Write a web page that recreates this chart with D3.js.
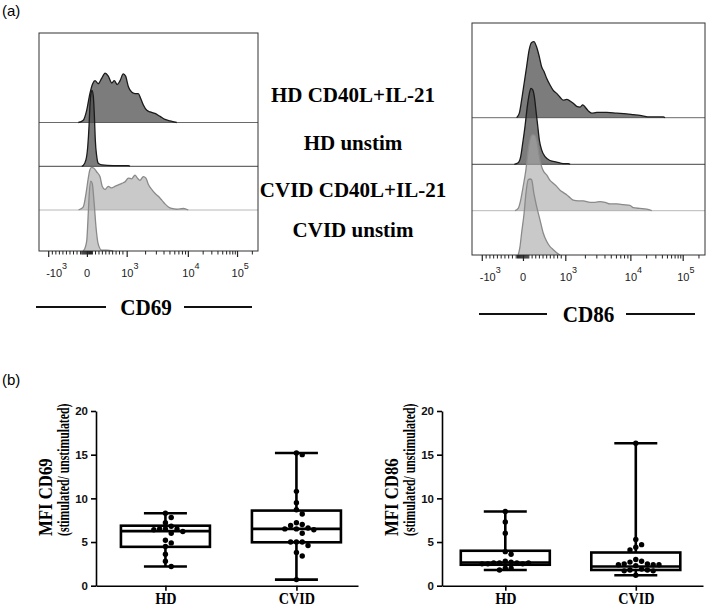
<!DOCTYPE html>
<html>
<head>
<meta charset="utf-8">
<script src="https://cdn.jsdelivr.net/npm/d3@7"></script>
<style>
  body { margin: 0; background: #fff; }
  svg { display: block; }
</style>
</head>
<body>
<svg id="fig" width="709" height="610"></svg>
<script>
// ---- flow histograms, [channel (0-1024), count (% of max)] ----
const cd69HdStim = [[184,0],[207,3],[223,16],[238,38],[251,51],[262,55],[277,51],[293,58],[309,65],[324,61],[340,52],[352,55],[366,50],[379,55],[394,64],[405,61],[418,47],[433,40],[449,38],[464,38],[475,32],[488,23],[504,16],[519,14],[542,12],[566,8],[589,4],[613,2],[644,0]];
const cd69HdUnstim = [[200,0],[207,1],[220,9],[228,26],[234,53],[238,79],[243,96],[248,100],[254,92],[259,66],[263,36],[270,13],[277,4],[293,2],[347,1],[418,1],[425,0]];
const cd69CvidStim = [[185,0],[192,1],[207,4],[220,22],[231,43],[238,53],[246,56],[257,55],[270,50],[285,44],[296,31],[309,27],[324,31],[340,29],[355,31],[371,33],[387,35],[402,37],[418,42],[433,41],[449,46],[460,42],[472,39],[488,44],[500,42],[511,34],[527,27],[542,22],[558,18],[574,13],[589,8],[605,4],[620,2],[644,1],[675,2],[698,0]];
const cd69CvidUnstim = [[205,0],[210,1],[223,13],[231,53],[235,75],[242,92],[249,89],[257,66],[267,30],[277,9],[293,1],[317,1],[347,0]];

const cd86HdStim = [[196,0],[208,6],[218,23],[229,45],[240,67],[251,89],[262,99],[272,100],[284,93],[296,80],[306,67],[316,61],[328,52],[343,43],[357,36],[372,32],[387,27],[401,23],[416,24],[431,22],[445,19],[460,15],[475,14],[487,17],[497,14],[511,9],[526,6],[548,7],[592,7],[636,6],[680,5],[709,4],[738,3],[782,1],[841,1],[848,0]];
const cd86HdUnstim = [[186,0],[203,2],[214,10],[223,28],[233,50],[243,76],[252,93],[259,100],[267,98],[274,89],[281,71],[289,50],[296,32],[306,19],[321,10],[343,5],[372,3],[401,1],[423,1],[431,0]];
const cd86CvidStim = [[189,0],[203,3],[214,14],[225,32],[237,54],[247,80],[258,97],[267,100],[277,99],[287,89],[296,71],[306,58],[316,51],[328,47],[343,40],[357,36],[372,32],[387,27],[401,24],[416,21],[431,17],[445,14],[467,13],[489,13],[519,11],[541,11],[563,12],[585,11],[607,9],[636,9],[665,8],[694,7],[709,4],[738,3],[768,2],[790,0]];
const cd86CvidUnstim = [[203,0],[211,11],[218,29],[229,55],[237,81],[247,99],[255,100],[262,99],[272,81],[284,64],[299,46],[313,29],[328,18],[343,11],[357,7],[372,3],[387,0]];

const sampleLabels = ["HD CD40L+IL-21", "HD unstim", "CVID CD40L+IL-21", "CVID unstim"];

// logicle axis: decade positions in channels
const decadeChannels = [43, 224, 410, 696, 926];
const decadeBase = ["-10", "0", "10", "10", "10"];
const decadeExp = ["3", "", "3", "4", "5"];

// ---- MFI ratio (stimulated / unstimulated) ----
const groups = ["HD", "CVID"];
const yTicks = [0, 5, 10, 15, 20];
const cd69HD = [8.3, 7.8, 7.2, 6.8, 6.5, 6.5, 6.5, 6.4, 6.2, 6.0, 5.2, 4.9, 4.5, 3.6, 2.8, 2.2];
const cd69CVID = [15.2, 15.0, 10.8, 9.5, 8.7, 8.2, 7.2, 7.0, 6.9, 6.6, 6.5, 6.5, 6.4, 6.0, 5.0, 5.0, 5.0, 4.6, 3.8, 3.4, 0.7];
const cd86HD = [8.5, 7.3, 6.0, 3.9, 3.6, 2.8, 2.7, 2.6, 2.6, 2.6, 2.6, 2.5, 2.5, 2.5, 2.0, 1.8, 2.0];
const cd86CVID = [16.3, 5.3, 4.7, 4.4, 4.1, 3.0, 2.8, 2.7, 2.5, 2.5, 2.4, 2.4, 2.4, 2.3, 1.9, 1.8, 1.8, 1.7, 1.7, 1.2];
// [min, q1, median, q3, max]
const cd69Box = [[2.2, 4.45, 6.25, 6.87, 8.3], [0.7, 4.97, 6.5, 8.6, 15.2]];
const cd86Box = [[1.8, 2.4, 2.65, 4.0, 8.5], [1.2, 1.8, 2.2, 3.8, 16.3]];

const svg = d3.select("#fig");
const sans = "'Liberation Sans', Arial, sans-serif";
const serif = "'Liberation Serif', 'Times New Roman', serif";

const xChan = d3.scaleLinear().domain([0, 1024]);
const yCount = d3.scaleLinear().domain([0, 100]).range([0, 76]);

const histStyles = [
  { fill: "#4a4a4a", opacity: 0.72, stroke: "#1a1a1a", base: "#6a6a6a" },
  { fill: "#4a4a4a", opacity: 0.72, stroke: "#1a1a1a", base: "#444" },
  { fill: "#a8a8a8", opacity: 0.62, stroke: "#8a8a8a", base: "#b8b8b8" },
  { fill: "#a8a8a8", opacity: 0.62, stroke: "#8a8a8a", base: "#333" },
];

function decadeMinor(c0, c1) {
  return d3.range(2, 10).map(k => c0 + Math.log10(k) * (c1 - c0));
}

const minorChannels = [
  ...d3.range(60, 195, 16.5),
  ...d3.range(198, 252, 4.5),
  ...d3.range(262, 400, 16),
  ...decadeMinor(decadeChannels[2], decadeChannels[3]),
  ...decadeMinor(decadeChannels[3], decadeChannels[4]),
  decadeChannels[4] + Math.log10(2) * (decadeChannels[4] - decadeChannels[3]),
];

function drawFlowPanel(series, { x0, x1, top, baselines, marker }) {
  const x = xChan.copy().range([x0, x1]);
  const bottom = baselines[3];
  const g = svg.append("g");

  baselines.slice(0, 3).forEach((b, i) => {
    g.append("line")
      .attr("x1", x0).attr("x2", x1).attr("y1", b).attr("y2", b)
      .attr("stroke", histStyles[i].base).attr("stroke-width", 1);
  });

  series.forEach((pts, i) => {
    const b = baselines[i];
    const st = histStyles[i];
    const area = d3.area()
      .x(d => x(d[0])).y0(b).y1(d => b - yCount(d[1]))
      .curve(d3.curveMonotoneX);
    const line = d3.line()
      .x(d => x(d[0])).y(d => b - yCount(d[1]))
      .curve(d3.curveMonotoneX);
    g.append("path").attr("d", area(pts))
      .attr("fill", st.fill).attr("fill-opacity", st.opacity);
    g.append("path").attr("d", line(pts))
      .attr("fill", "none").attr("stroke", st.stroke).attr("stroke-width", 1.3);
  });

  g.append("rect")
    .attr("x", x0).attr("y", top).attr("width", x1 - x0).attr("height", bottom - top)
    .attr("fill", "none").attr("stroke", "#333").attr("stroke-width", 1);

  const axisG = g.append("g").attr("transform", `translate(0,${bottom})`);
  axisG.append("g")
    .call(d3.axisBottom(x).tickValues(minorChannels).tickSize(3.5).tickFormat(""))
    .call(a => a.select(".domain").remove())
    .call(a => a.selectAll("line").attr("stroke", "#222"));
  axisG.append("g")
    .call(d3.axisBottom(x).tickValues(decadeChannels).tickSize(6).tickFormat(""))
    .call(a => a.select(".domain").remove())
    .call(a => a.selectAll("line").attr("stroke", "#222").attr("stroke-width", 1.2));

  decadeChannels.forEach((c, i) => {
    const shift = decadeBase[i] === "-10" ? 2 : decadeBase[i] === "0" ? 3 : 5.5;
    const t = g.append("text")
      .attr("x", x(c) - shift).attr("y", bottom + 25.5)
      .attr("font-family", sans).attr("font-size", 11).attr("fill", "#222");
    t.append("tspan").text(decadeBase[i]);
    if (decadeExp[i]) t.append("tspan").attr("dy", -7.5).attr("font-size", 9).text(decadeExp[i]);
  });

  // marker label with rules on each side
  g.append("text")
    .attr("transform", `translate(${marker.cx},${marker.y}) scale(0.88,1)`)
    .attr("text-anchor", "middle")
    .attr("font-family", serif).attr("font-weight", "bold").attr("font-size", 24)
    .text(marker.text);
  marker.rules.forEach(([a, b]) => {
    g.append("line").attr("x1", a).attr("x2", b)
      .attr("y1", marker.y - 8).attr("y2", marker.y - 8)
      .attr("stroke", "#111").attr("stroke-width", 2);
  });
}

drawFlowPanel([cd69HdStim, cd69HdUnstim, cd69CvidStim, cd69CvidUnstim], {
  x0: 39, x1: 258, top: 33, baselines: [122.5, 166.3, 210, 251],
  marker: { text: "CD69", cx: 146, y: 315, rules: [[36, 106], [184, 252]] },
});
drawFlowPanel([cd86HdStim, cd86HdUnstim, cd86CvidStim, cd86CvidUnstim], {
  x0: 472, x1: 705, top: 23, baselines: [117.7, 164.3, 210.7, 255],
  marker: { text: "CD86", cx: 588.5, y: 322, rules: [[479, 547], [626, 695]] },
});

const labelY = [101.7, 150, 196.7, 236.7];
sampleLabels.forEach((s, i) => {
  svg.append("text")
    .attr("x", 353).attr("y", labelY[i])
    .attr("text-anchor", "middle")
    .attr("font-family", serif).attr("font-weight", "bold").attr("font-size", 21)
    .text(s);
});

svg.append("text").attr("x", 2).attr("y", 16)
  .attr("font-family", sans).attr("font-size", 15).text("(a)");
svg.append("text").attr("x", 2).attr("y", 385)
  .attr("font-family", sans).attr("font-size", 15).text("(b)");

// ---- box plots ----
function swarm(vals, y, cx, gap) {
  const placed = [];
  vals.slice().sort((a, b) => b - a).forEach(v => {
    const py = y(v);
    for (let k = 0; ; k++) {
      const px = cx + (k % 2 ? 1 : -1) * Math.ceil(k / 2) * gap;
      if (placed.every(p => Math.hypot(p.x - px, p.y - py) >= gap)) {
        placed.push({ x: px, y: py });
        break;
      }
    }
  });
  return placed;
}

function drawBoxChart({ ax, x1, align, stats, values, marker }) {
  const y = d3.scaleLinear().domain([0, 20]).range([585.7, 411]);
  const x = d3.scalePoint().domain(groups).range([ax, x1]).padding(0.5).align(align);
  const g = svg.append("g");

  g.append("g").attr("transform", `translate(${ax},0)`)
    .call(d3.axisLeft(y).tickValues(yTicks).tickSize(5).tickSizeOuter(0).tickPadding(3))
    .call(a => a.select(".domain").attr("stroke-width", 1.6))
    .call(a => a.selectAll("line").attr("stroke-width", 1.6))
    .call(a => a.selectAll("text")
      .attr("font-family", sans).attr("font-weight", "bold").attr("font-size", 11.5).attr("fill", "#111"));

  g.append("g").attr("transform", `translate(0,${y(0)})`)
    .call(d3.axisBottom(x).tickSize(5).tickSizeOuter(0))
    .call(a => a.select(".domain").attr("stroke-width", 1.6))
    .call(a => a.selectAll("line").attr("stroke-width", 1.6))
    .call(a => a.selectAll("text")
      .attr("y", 18.5).attr("dy", 0).attr("transform", "scale(0.86,1)")
      .attr("font-family", serif).attr("font-weight", "bold").attr("font-size", 16.5).attr("fill", "#000"));

  const boxW = 89, capW = 43;
  groups.forEach((grp, i) => {
    const [mn, q1, med, q3, mx] = stats[i];
    const cx = x(grp);
    const bg = g.append("g").attr("stroke", "#000").attr("stroke-width", 2.6).attr("fill", "none");
    bg.append("line").attr("x1", cx).attr("x2", cx).attr("y1", y(mx)).attr("y2", y(q3));
    bg.append("line").attr("x1", cx).attr("x2", cx).attr("y1", y(q1)).attr("y2", y(mn));
    [mn, mx].forEach(v => bg.append("line")
      .attr("x1", cx - capW / 2).attr("x2", cx + capW / 2).attr("y1", y(v)).attr("y2", y(v)));
    bg.append("rect")
      .attr("x", cx - boxW / 2).attr("y", y(q3))
      .attr("width", boxW).attr("height", y(q1) - y(q3));
    bg.append("line").attr("x1", cx - boxW / 2).attr("x2", cx + boxW / 2)
      .attr("y1", y(med)).attr("y2", y(med));

    g.append("g").selectAll("circle")
      .data(swarm(values[i], y, cx, 5.8))
      .join("circle")
      .attr("cx", d => d.x).attr("cy", d => d.y).attr("r", 2.7).attr("fill", "#000");
  });

  g.append("text")
    .attr("transform", `translate(${ax - 44},536) rotate(-90) scale(0.93,1)`)
    .attr("font-family", serif).attr("font-weight", "bold").attr("font-size", 18)
    .text(marker);
  g.append("text")
    .attr("transform", `translate(${ax - 27},536) rotate(-90) scale(0.71,1)`)
    .attr("font-family", serif).attr("font-weight", "bold").attr("font-size", 16.5)
    .text("(stimulated/ unstimulated)");
}

drawBoxChart({ ax: 96, x1: 358, align: 0.53, stats: cd69Box, values: [cd69HD, cd69CVID], marker: "MFI CD69" });
drawBoxChart({ ax: 442, x1: 703, align: 0.485, stats: cd86Box, values: [cd86HD, cd86CVID], marker: "MFI CD86" });
</script>
</body>
</html>
